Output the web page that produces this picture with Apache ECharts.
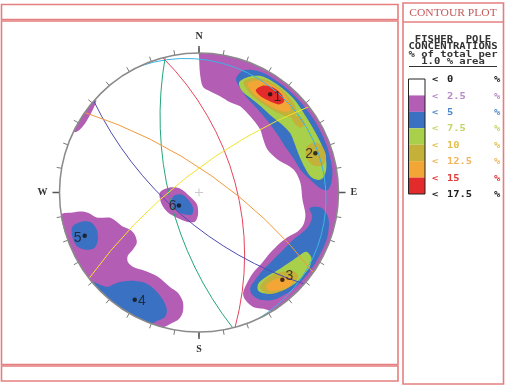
<!DOCTYPE html>
<html><head><meta charset="utf-8">
<script src="https://cdn.jsdelivr.net/npm/echarts@6/dist/echarts.min.js"></script>
<style>html,body{margin:0;padding:0;background:#fff}#c{width:505px;height:389px}</style>
</head><body><div id="c"></div>
<script>
// ---------- DATA ----------
// legend levels (% of total per 1.0 % area)
const levelLabels = ['0', '2.5', '5', '7.5', '10', '12.5', '15', '17.5'];
const compass = ['N', 'E', 'S', 'W'];

// pole concentrations: azimuth (deg, clockwise from N) and projected radius (0..1)
const poleLabels = ['1', '2', '3', '4', '5', '6'];
const poleAzimuth = [35.9, 71.4, 136.3, 210.9, 249.3, 237];
const poleRadius = [0.87, 0.88, 0.865, 0.897, 0.876, 0.172];

// great circles: dip direction and dip (deg)
const planeDipDir = [65, 256, 75, 221, 35, 322];
const planeDip = [6, 66, 60, 67, 73, 74];

// contour outlines as [azimuth, radius] vertices
const purpleNE = [[0,1],[10,1],[20,1],[30,1],[40,1],[50,1],[60,1],[70,1],[80,1],[90,1],[100,1],[110,1],[120,1],[130,1],[140,1],[148,1],
 [151,0.953],[154.7,0.907],[156.7,0.838],[156.3,0.786],[152,0.734],[146,0.694],[138,0.677],[130.2,0.669],[121.7,0.685],[116.3,0.714],
 [111.7,0.759],[107,0.783],[101.7,0.779],[93.9,0.743],[84.3,0.73],[76.2,0.696],[67,0.609],[57.7,0.579],[50.4,0.598],[44,0.63],
 [33.9,0.658],[25.5,0.685],[19,0.685],[12.3,0.707],[6.2,0.73],[2.2,0.756],[0.5,0.85],[0,0.98]];
const purpleNW = [[296,1],[300,1],[305,1],[310,1],[312,0.99],[308,0.965],[302,0.955],[298,0.965],[296,0.985]];
const purpleSW = [[260.8,1],[261,0.918],[260.7,0.845],[259.1,0.799],[256.2,0.755],[254.3,0.665],[250.5,0.626],[245.9,0.599],
 [241.8,0.563],[236.7,0.551],[231.1,0.573],[229.2,0.627],[228.4,0.683],[225.8,0.712],[221.7,0.713],[214.7,0.683],[206,0.672],
 [197.1,0.708],[191.9,0.735],[188.4,0.792],[187.7,0.864],[189,0.918],[191.7,0.955],[195.1,1],[200,1],[210,1],[220,1],[230,1],
 [240,1],[250,1]];
const purple6 = [[270,0.281],[279.8,0.212],[281.9,0.14],[246,0.071],[189.5,0.087],[182.6,0.158],[187.9,0.211],[202.5,0.226],
 [221.3,0.24],[237.2,0.265],[252,0.28]];

const blueNE = [[18,0.86],[20,0.93],[25,0.965],[30,0.975],[40,0.975],[50,0.975],[60,0.975],[70,0.975],[80,0.97],[86,0.95],[89,0.92],
 [88,0.87],[84,0.81],[78,0.75],[70,0.72],[62,0.70],[53,0.70],[44,0.71],[35,0.73],[27,0.76],[21,0.81]];
const blueSE = [[98,0.8],[97,0.88],[100,0.935],[104,0.96],[110.3,0.975],[118.8,0.975],[125.9,0.975],[133.8,0.97],[138.8,0.96],
 [145.3,0.936],[150.3,0.886],[152.5,0.827],[151.8,0.776],[147.2,0.744],[140.3,0.72],[132.2,0.718],[124.2,0.73],[116.6,0.756],
 [111.2,0.795],[107.3,0.821],[101.9,0.83]];
const blue5 = [[254.9,0.939],[256,0.86],[254.3,0.8],[250.1,0.78],[245,0.8],[242.1,0.846],[243,0.904],[245.9,0.953],[250.3,0.963]];
const blue4 = [[230.2,1],[224.4,0.946],[222.3,0.876],[218.1,0.804],[211,0.755],[204.4,0.766],[198.6,0.812],[195.3,0.873],
 [195.3,0.925],[198.8,0.98],[200,1],[210,1],[220,1]];
const blue6 = [[261.3,0.189],[263.3,0.123],[237.5,0.094],[201.8,0.116],[197.6,0.166],[212.5,0.188],[227.9,0.204],[245.2,0.206]];

const greenNE = [[20,0.84],[23,0.9],[28,0.945],[35,0.955],[45,0.955],[55,0.94],[65,0.94],[73,0.945],[79,0.93],[83,0.9],[84,0.86],
 [82,0.81],[77,0.78],[70,0.765],[63,0.77],[57,0.78],[51,0.77],[44,0.755],[36,0.76],[29,0.77],[23,0.79]];
const greenSE = [[118.9,0.879],[120.1,0.932],[123.7,0.955],[128.9,0.955],[134.4,0.945],[140.4,0.915],[146,0.876],[148.9,0.823],
 [147,0.78],[141.4,0.773],[134.3,0.794],[127.2,0.822],[121.5,0.853]];

const oliveNE1 = [[22,0.85],[25,0.905],[31,0.94],[40,0.945],[47,0.93],[51,0.9],[51,0.855],[46,0.81],[38,0.785],[29,0.79]];
const oliveNE2 = [[67.2,0.835],[66.7,0.909],[70.1,0.945],[74.6,0.945],[77.6,0.906],[76.7,0.843],[71.9,0.81]];
const oliveNE3 = [[51,0.86],[53,0.905],[57,0.905],[57.5,0.865],[54,0.845]];
const oliveSE = [[147.3,0.812],[142.1,0.784],[135.4,0.809],[130,0.873],[130,0.929],[134.1,0.941],[139.7,0.924],[145.7,0.88]];

const orangeNE = [[24,0.855],[27,0.9],[32,0.93],[39,0.935],[45,0.915],[48,0.88],[46,0.835],[40,0.805],[32,0.8],[27,0.82]];
const orangeSE = [[144.2,0.825],[139.2,0.826],[134.3,0.865],[132.5,0.917],[135.6,0.936],[140.5,0.905],[144.5,0.866]];

const redNE = [[29,0.84],[31,0.895],[35,0.92],[40,0.92],[43,0.895],[42,0.85],[37,0.825],[32,0.82]];

// ---------- STYLES ----------
const boxColors = ['#ffffff', '#b35db5', '#3a71c3', '#a8d04b', '#c3b13a', '#f3a535', '#e42b2b'];
const labelColors = ['#222', '#b98ac6', '#4f8ccf', '#c4d46a', '#e2c04f', '#f2b45e', '#e03a3a', '#222'];
const planeColors = ['#3db3e3', '#24a77a', '#e6445c', '#4d4db3', '#f19a3c', '#f1e52a'];
const frameColor = '#e57f7f';
const CX = 199, CY = 192.5, RAD = 139.5;

const contourLayers = [
  [boxColors[1], [purpleNE, purpleNW, purpleSW, purple6]],
  [boxColors[2], [blueNE, blueSE, blue5, blue4, blue6]],
  [boxColors[3], [greenNE, greenSE]],
  [boxColors[4], [oliveNE1, oliveNE2, oliveNE3, oliveSE]],
  [boxColors[5], [orangeNE, orangeSE]],
  [boxColors[6], [redNE]]
];

const poleLabelPos = ['right', 'left', 'right', 'right', 'left', 'left'];
const poleLabelOffset = [[-1, 3], [2, 1], [-1, -4], [-1, 1], [1, 2], [2, 1]];

// ---------- CHART ----------
const chart = echarts.init(document.getElementById('c'));

const series = [];
contourLayers.forEach(function (layer) {
  const color = layer[0], polys = layer[1];
  series.push({
    type: 'custom', coordinateSystem: 'polar', polarIndex: 0, silent: true, animation: false, z: 2,
    data: polys.map(function (p, i) { return [p[0][1], p[0][0], i]; }),
    renderItem: function (params, api) {
      const verts = polys[params.dataIndex];
      const pts = verts.map(function (v) { return api.coord([v[1], v[0] % 360]); });
      return { type: 'polygon', shape: { points: pts, smooth: 0.3 }, style: { fill: color, stroke: null } };
    }
  });
});

const D2R = Math.PI / 180;
series.push({
  type: 'custom', coordinateSystem: 'polar', polarIndex: 0, silent: true, animation: false, z: 3,
  data: planeDipDir.map(function (d, i) { return [0, d, i]; }),
  renderItem: function (params, api) {
    const i = params.dataIndex, dd = planeDipDir[i], dip = planeDip[i];
    const o = api.coord([0, 0]);
    const e = api.coord([1, 0]);
    const Rpx = Math.hypot(e[0] - o[0], e[1] - o[1]);
    const c = api.coord([Math.tan(dip * D2R), (dd + 180) % 360]);
    const rr = Rpx / Math.cos(dip * D2R);
    const p1 = api.coord([1, (dd + 270) % 360]);
    const p2 = api.coord([1, (dd + 90) % 360]);
    const pm = api.coord([Math.tan((45 - dip / 2) * D2R), dd]);
    const ang = function (q) { return Math.atan2(q[1] - c[1], q[0] - c[0]); };
    const TW = 2 * Math.PI;
    const norm = function (x) { return ((x % TW) + TW) % TW; };
    const a1 = ang(p1), a2 = ang(p2), am = ang(pm);
    const cw = norm(am - a1) < norm(a2 - a1);
    return { type: 'arc', shape: { cx: c[0], cy: c[1], r: rr, startAngle: a1, endAngle: a2, clockwise: cw },
      style: { stroke: planeColors[i], fill: null, lineWidth: 1 } };
  }
});

series.push({
  type: 'custom', coordinateSystem: 'polar', polarIndex: 0, silent: true, animation: false, z: 3,
  data: [[0, 0]],
  renderItem: function (params, api) {
    const o = api.coord([0, 0]);
    return { type: 'group', children: [
      { type: 'line', shape: { x1: o[0] - 4, y1: o[1], x2: o[0] + 4, y2: o[1] }, style: { stroke: '#c9c9c9', lineWidth: 1 } },
      { type: 'line', shape: { x1: o[0], y1: o[1] - 4, x2: o[0], y2: o[1] + 4 }, style: { stroke: '#c9c9c9', lineWidth: 1 } }
    ] };
  }
});

series.push({
  type: 'scatter', coordinateSystem: 'polar', polarIndex: 0, silent: true, animation: false, z: 4,
  symbolSize: 4.5, itemStyle: { color: '#111' },
  data: poleLabels.map(function (lab, i) {
    return { value: [poleRadius[i], poleAzimuth[i]], name: lab,
      label: { show: true, formatter: lab, position: poleLabelPos[i], distance: 2, offset: poleLabelOffset[i],
        color: '#1a1a1a', fontSize: 14, fontFamily: 'Liberation Sans, Arial, sans-serif' } };
  })
});

// frames and legend as graphics
const graphics = [
  { type: 'rect', shape: { x: 1.5, y: 4.5, width: 396.5, height: 15 }, style: { fill: null, stroke: frameColor, lineWidth: 1.6 } },
  { type: 'rect', shape: { x: 1.5, y: 21, width: 396.5, height: 343.5 }, style: { fill: null, stroke: frameColor, lineWidth: 1.6 } },
  { type: 'rect', shape: { x: 1.5, y: 366, width: 396.5, height: 15 }, style: { fill: null, stroke: frameColor, lineWidth: 1.6 } },
  { type: 'rect', shape: { x: 403, y: 3, width: 100.5, height: 381 }, style: { fill: null, stroke: frameColor, lineWidth: 1.6 } },
  { type: 'line', shape: { x1: 403, y1: 22, x2: 503.5, y2: 22 }, style: { stroke: frameColor, lineWidth: 1.6 } },
  { type: 'text', x: 453, y: 13, scaleX: 1.05, style: { text: 'CONTOUR PLOT', fill: '#c45a5a', font: '11px "Liberation Serif", serif', align: 'center', verticalAlign: 'middle' } }
];
const headLines = ['FISHER  POLE', 'CONCENTRATIONS', '% of total per', '1.0 % area'];
headLines.forEach(function (t, i) {
  graphics.push({ type: 'text', x: 453, y: 40 + i * 7.4, scaleX: 1.32,
    style: { text: t, fill: '#333', font: 'bold 8px "DejaVu Sans Mono", monospace', align: 'center', verticalAlign: 'middle' } });
});
graphics.push({ type: 'line', shape: { x1: 409, y1: 66.5, x2: 497, y2: 66.5 }, style: { stroke: '#333', lineWidth: 1 } });
const boxTop = 79, boxH = 16.43;
boxColors.forEach(function (col, i) {
  graphics.push({ type: 'rect', shape: { x: 408.5, y: boxTop + i * boxH, width: 16.5, height: boxH }, style: { fill: col, stroke: null } });
});
graphics.push({ type: 'rect', shape: { x: 408.5, y: boxTop, width: 16.5, height: boxH * boxColors.length }, style: { fill: null, stroke: '#222', lineWidth: 1 } });
levelLabels.forEach(function (t, i) {
  const y = boxTop + 1 + i * boxH;
  const st = { fill: labelColors[i], font: 'bold 8px "DejaVu Sans Mono", monospace', verticalAlign: 'middle' };
  graphics.push({ type: 'text', x: 432, y: y, scaleX: 1.3, style: Object.assign({ text: '<', align: 'left' }, st) });
  graphics.push({ type: 'text', x: 447, y: y, scaleX: 1.3, style: Object.assign({ text: t, align: 'left' }, st) });
  graphics.push({ type: 'text', x: 494, y: y, scaleX: 1.3, style: Object.assign({ text: '%', align: 'left' }, st) });
});

chart.setOption({
  animation: false,
  backgroundColor: '#fff',
  polar: [
    { center: [CX, CY], radius: RAD },
    { center: [CX, CY], radius: RAD }
  ],
  angleAxis: [
    { polarIndex: 0, type: 'value', min: 0, max: 360, interval: 10, startAngle: 90, clockwise: true, z: 10,
      axisLine: { show: true, lineStyle: { color: '#8a8a8a', width: 1.5 } },
      axisTick: { show: true, length: 5, lineStyle: { color: '#7a7a7a', width: 1 } },
      axisLabel: { show: false }, splitLine: { show: false } },
    { polarIndex: 1, type: 'value', min: 0, max: 360, interval: 90, startAngle: 90, clockwise: true, z: 10,
      axisLine: { show: false },
      axisTick: { show: true, length: 7, lineStyle: { color: '#555', width: 1.5 } },
      axisLabel: { show: true, margin: 12, color: '#333', fontSize: 10, fontWeight: 'bold',
        fontFamily: 'Liberation Serif, serif',
        formatter: function (v) { return v < 360 ? compass[Math.round(v / 90)] : ''; } },
      splitLine: { show: false } }
  ],
  radiusAxis: [
    { polarIndex: 0, type: 'value', min: 0, max: 1, show: false },
    { polarIndex: 1, type: 'value', min: 0, max: 1, show: false }
  ],
  graphic: { elements: graphics },
  series: series
});
</script>
</body></html>
